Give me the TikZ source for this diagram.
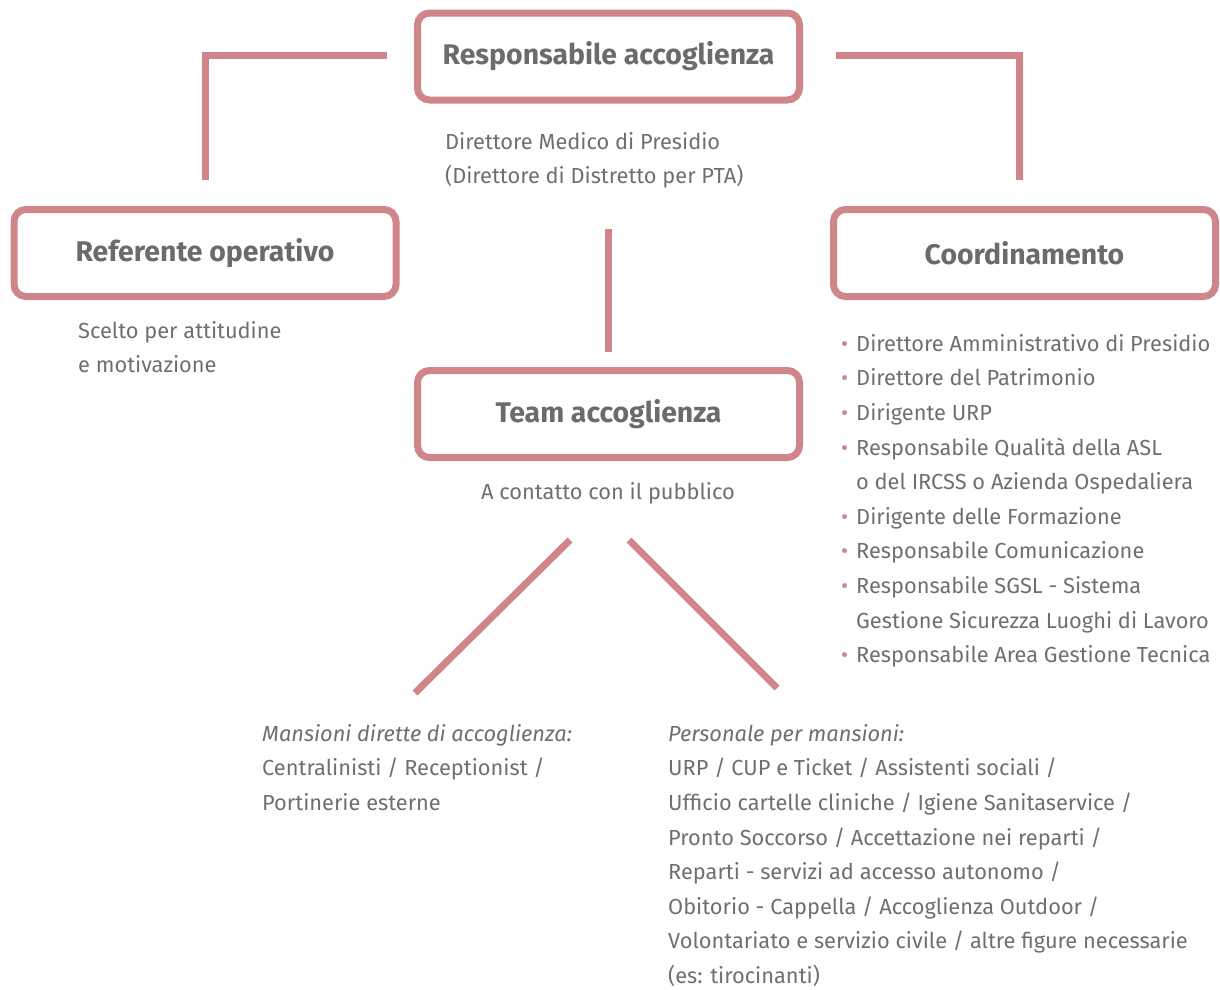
\documentclass[tikz,border=0pt]{standalone}
\usepackage{fontspec}
\setmainfont{Fira Sans}
\usetikzlibrary{calc}
\definecolor{pinkline}{HTML}{D0858B}
\definecolor{txtgrey}{HTML}{6F6F6F}
\definecolor{titlegrey}{HTML}{6B6B6B}
\newcommand{\bul}{\makebox[15pt][l]{\textcolor{pinkline}{\textbullet}}}
\newcommand{\nobul}{\makebox[15pt][l]{}}
\tikzset{
  box/.style={draw=pinkline, line width=7pt, rounded corners=12pt, fill=white,
    minimum width=382pt, minimum height=87pt, inner sep=0pt,
    font=\fontsize{28.4}{32}\selectfont\bfseries, text=titlegrey},
  conn/.style={draw=pinkline, line width=7pt},
  body/.style={inner sep=0pt, anchor=north west, align=left, text=txtgrey,
    font=\fontsize{21.8}{34.6}\selectfont},
}
\begin{document}
\begin{tikzpicture}[x=1pt,y=-1pt]
\useasboundingbox (0,0) rectangle (1220,989);
\node[box] (resp) at (608.5,56.5) {Responsabile accoglienza};
\node[box] (ref) at (205,253) {Referente operativo};
\node[box] (coord) at (1024.5,253) {Coordinamento};
\node[box] (team) at (608.5,414) {Team accoglienza};

\coordinate (l1) at ($(resp.west)+(-27,-1.5)$);
\coordinate (l2) at ($(ref.north)+(0,-26)$);
\coordinate (r1) at ($(resp.east)+(33,-1.5)$);
\coordinate (r2) at ($(coord.north)+(-5,-26)$);
\draw[conn] (l1) -| (l2);
\draw[conn] (r1) -| (r2);

\coordinate (c1) at (608,229);
\coordinate (c2) at (608,352);
\draw[conn] (c1) -- (c2);

\coordinate (d1) at (570,540);
\coordinate (d2) at (415,693);
\coordinate (d3) at (629,540);
\coordinate (d4) at (777,688);
\draw[conn] (d1) -- (d2);
\draw[conn] (d3) -- (d4);

\node[body] (respt) at (445,132) {Direttore Medico di Presidio\\(Direttore di Distretto per PTA)};
\node[body] (reft) at (78,321) {Scelto per attitudine\\e motivazione};
\node[body, anchor=north] (teamt) at (608,482) {A contatto con il pubblico};
\node[body] (coordt) at (841,334) {%
\bul Direttore Amministrativo di Presidio\\
\bul Direttore del Patrimonio\\
\bul Dirigente URP\\
\bul Responsabile Qualità della ASL\\
\nobul o del IRCSS o Azienda Ospedaliera\\
\bul Dirigente delle Formazione\\
\bul Responsabile Comunicazione\\
\bul Responsabile SGSL - Sistema\\
\nobul Gestione Sicurezza Luoghi di Lavoro\\
\bul Responsabile Area Gestione Tecnica};
\node[body] (mans) at (262,724) {\textit{Mansioni dirette di accoglienza:}\\Centralinisti / Receptionist /\\Portinerie esterne};
\node[body] (pers) at (668,724) {\textit{Personale per mansioni:}\\URP / CUP e Ticket / Assistenti sociali /\\Ufficio cartelle cliniche / Igiene Sanitaservice /\\Pronto Soccorso / Accettazione nei reparti /\\Reparti - servizi ad accesso autonomo /\\Obitorio - Cappella / Accoglienza Outdoor /\\Volontariato e servizio civile / altre figure necessarie\\(es: tirocinanti)};
\end{tikzpicture}
\end{document}
